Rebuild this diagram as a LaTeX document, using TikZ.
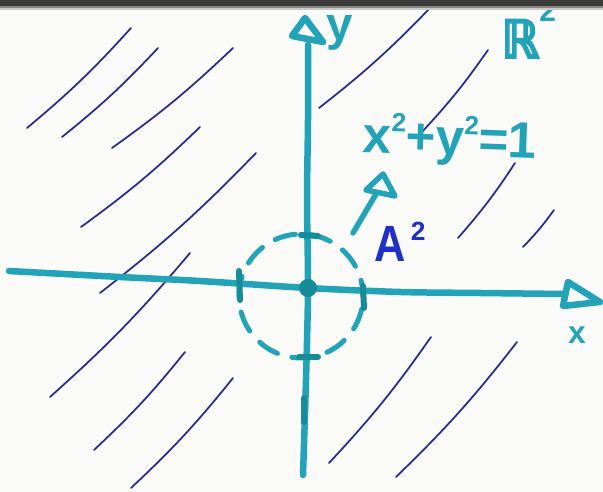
\documentclass[tikz,border=0pt]{standalone}
\usepackage{fontspec}
\setmainfont{Liberation Sans}
\newfontfamily\dejavuheavy[FakeBold=3.5]{DejaVu Sans Bold}
\definecolor{paper}{HTML}{FAFAF8}
\definecolor{cyanink}{HTML}{22A3B8}
\definecolor{darkink}{HTML}{168C99}
\definecolor{hatchblue}{HTML}{2B2B8F}
\definecolor{ablue}{HTML}{1F2FC8}
\definecolor{topband}{HTML}{3A3A3A}
\newcommand{\supfig}[1]{\raisebox{0.42em}{\fontsize{15}{15}\selectfont #1}}
\begin{document}
\begin{tikzpicture}[x=0.02cm,y=-0.02cm,
  axis/.style={draw=cyanink,line width=0.13cm,line cap=round,line join=round},
  tickmark/.style={draw=darkink,line width=0.12cm,line cap=round},
  hatch/.style={draw=hatchblue,line width=0.035cm,line cap=round},
  lbl/.style={text=cyanink,inner sep=0pt}]
\useasboundingbox (0,0) rectangle (603,492);
\fill[paper] (0,0) rectangle (603,492);
% hatching
\foreach \ax/\ay/\bx/\by in {27/128/131/28, 62/137/158/48, 112/148/233/48,
  81/227/200/127, 100/293/256/153, 50/397/190/253,
  94/450/185/352, 131/488/233/378, 319/108/431/7,
  421/133/488/50, 458/238/515/163, 523/247/554/210,
  329/463/431/337, 396/477/517/342}
  \draw[hatch] (\ax,\ay) to[bend right=4] (\bx,\by);
% dashed unit circle
\draw[draw=cyanink,line width=0.1cm,dash pattern=on 0.42cm off 0.3cm,dash phase=0.1cm,line cap=round] (301,296) circle (1.24cm);
% x axis
\draw[axis] plot[smooth] coordinates {(9,271) (120,277) (200,281) (308,288) (400,292) (480,293) (564,294)};
\draw[axis] (568,282) -- (600,302) -- (563,306) -- cycle;
% y axis
\draw[axis] plot[smooth] coordinates {(308,45) (308,120) (307,200) (308,288) (306,380) (303,475)};
\draw[axis] (305,18) -- (292,36) -- (323,42) -- cycle;
\draw[tickmark] (304,398) -- (304,422);
% ticks and origin
\draw[tickmark] (239,271) -- (240,300);
\draw[tickmark] (363,286) -- (364,308);
\draw[tickmark] (301,235) -- (318,236);
\draw[tickmark] (299,357) -- (318,357);
\fill[darkink] (308,288) circle (0.18cm);
% small arrow
\draw[axis,line width=0.11cm] (353,233) -- (376,194);
\draw[axis,line width=0.11cm] (383,174) -- (366,190) -- (395,196) -- cycle;
% labels
\node[lbl,font=\bfseries\fontsize{27}{30}\selectfont] (ylab) at (340,33) {y};
\node[lbl,font=\bfseries\fontsize{18}{20}\selectfont] (xlab) at (577,335) {x};
\node[lbl,font=\dejavuheavy\fontsize{30}{32}\selectfont,xscale=0.9,anchor=base west] (rlab) at (501,58) {ℝ};
\node[lbl,font=\bfseries\fontsize{17}{18}\selectfont,anchor=base west] (rsup) at (539,22) {2};
\node[lbl,font=\bfseries\fontsize{29}{32}\selectfont,rotate=-2,anchor=base west] (eq) at (362,152) {x\supfig{2}+y\supfig{2}=1};
\node[lbl,text=ablue,font=\bfseries\fontsize{29}{30}\selectfont,anchor=base west] (alab) at (374,262) {\scalebox{0.85}[1]{A}\kern3pt\supfig{2}};
% top scan edge
\fill[topband] (0,0) rectangle (603,6);
\fill[topband!60!paper] (0,6) rectangle (603,8);
\fill[topband!25!paper] (0,8) rectangle (603,10);
\end{tikzpicture}
\end{document}
